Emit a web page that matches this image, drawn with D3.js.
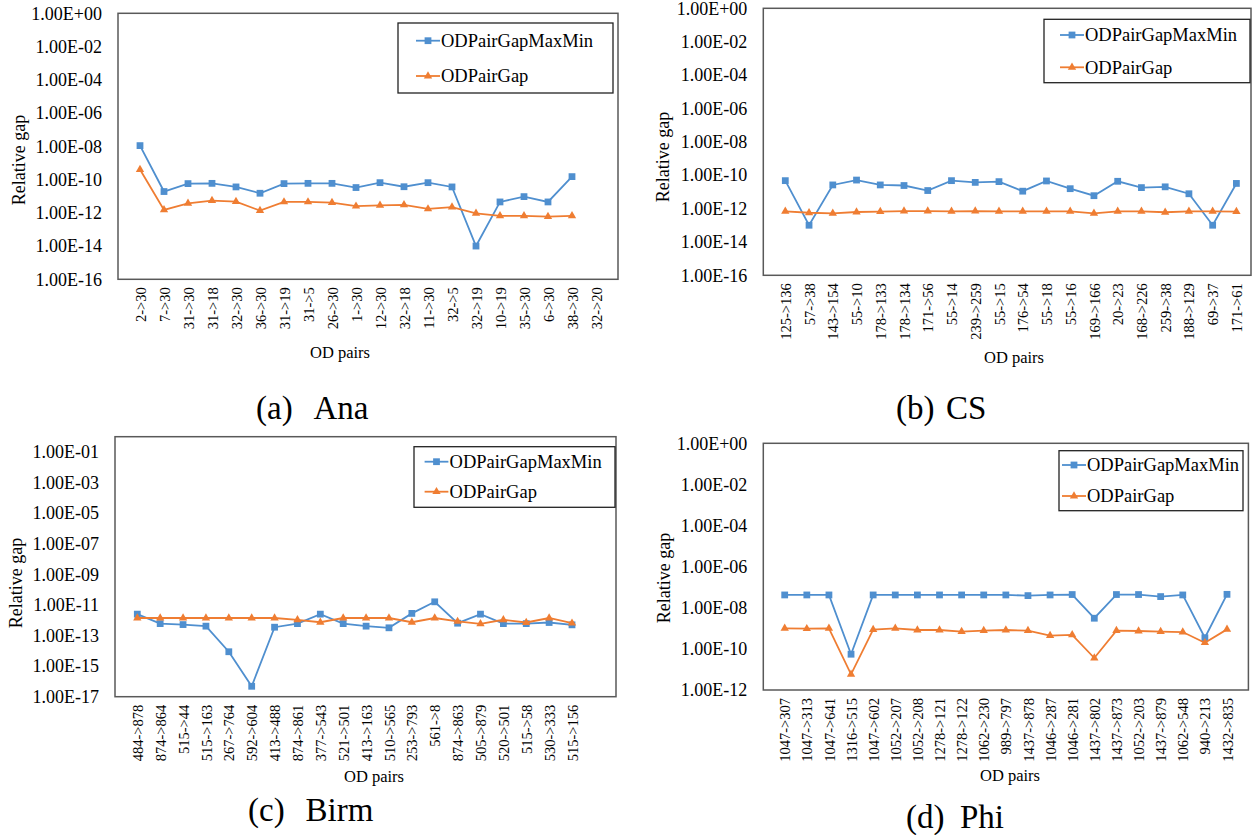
<!DOCTYPE html>
<html>
<head>
<meta charset="utf-8">
<script src="https://cdnjs.cloudflare.com/ajax/libs/d3/7.8.5/d3.min.js"></script>
<style>
  html, body { margin: 0; padding: 0; background: #fff; }
  svg { display: block; }
  svg text { font-family: "Liberation Serif", "Times New Roman", serif; }
</style>
</head>
<body>
<svg id="chart" width="1253" height="835"></svg>
<script>
// ---- Series names ----
const seriesNames = ["ODPairGapMaxMin", "ODPairGap"];

// ---- (a) Ana ----
const anaPairs = ["2->30","7->30","31->30","31->18","32->30","36->30","31->19","31->5","26->30","1->30",
                  "12->30","32->18","11->30","32->5","32->19","10->19","35->30","6->30","38->30","32->20"];
const anaMaxMin = [1.1e-8, 1.9e-11, 5.7e-11, 5.9e-11, 3.6e-11, 1.5e-11, 5.7e-11, 5.9e-11, 5.9e-11, 3.3e-11,
                   6.5e-11, 3.7e-11, 6.5e-11, 3.6e-11, 1.0e-14, 4.5e-12, 9.4e-12, 4.5e-12, 1.5e-10, null];
const anaGap = [4.0e-10, 1.5e-12, 3.7e-12, 5.4e-12, 4.7e-12, 1.35e-12, 4.5e-12, 4.5e-12, 4.1e-12, 2.5e-12,
                2.8e-12, 3.0e-12, 1.7e-12, 2.2e-12, 9.3e-13, 6.5e-13, 6.5e-13, 5.9e-13, 6.5e-13, null];
const anaTickExps = [0, -2, -4, -6, -8, -10, -12, -14, -16];

// ---- (b) CS ----
const csPairs = ["125->136","57->38","143->154","55->10","178->133","178->134","171->56","55->14","239->259","55->15",
                 "176->54","55->18","55->16","169->166","20->23","168->226","259->38","188->129","69->37","171->61"];
const csMaxMin = [4.7e-11, 1.0e-13, 2.6e-11, 5.1e-11, 2.6e-11, 2.4e-11, 1.2e-11, 4.7e-11, 3.7e-11, 4.1e-11,
                  1.1e-11, 4.5e-11, 1.55e-11, 5.9e-12, 4.3e-11, 1.8e-11, 2.0e-11, 7.7e-12, 1.0e-13, 3.2e-11];
const csGap = [6.8e-13, 5.6e-13, 5.1e-13, 6.2e-13, 6.5e-13, 7.1e-13, 7.1e-13, 6.8e-13, 7.1e-13, 6.8e-13,
               6.8e-13, 6.8e-13, 6.8e-13, 5.2e-13, 6.8e-13, 6.8e-13, 6.0e-13, 6.8e-13, 6.8e-13, 6.5e-13];
const csTickExps = [0, -2, -4, -6, -8, -10, -12, -14, -16];

// ---- (c) Birm ----
const birmPairs = ["484->878","874->864","515->44","515->163","267->764","592->604","413->488","874->861","377->543","521->501",
                   "413->163","510->565","253->793","561->8","874->863","505->879","520->501","515->58","530->333","515->156"];
const birmMaxMin = [2.5e-12, 6.0e-13, 5.2e-13, 4.1e-13, 8.7e-15, 4.8e-17, 3.5e-13, 6.0e-13, 2.5e-12, 6.0e-13,
                    4.1e-13, 3.2e-13, 2.8e-12, 1.6e-11, 6.4e-13, 2.5e-12, 6.0e-13, 6.0e-13, 7.1e-13, 5.0e-13];
const birmGap = [1.4e-12, 1.4e-12, 1.4e-12, 1.4e-12, 1.4e-12, 1.4e-12, 1.4e-12, 1.07e-12, 7.4e-13, 1.4e-12,
                 1.4e-12, 1.4e-12, 7.4e-13, 1.4e-12, 8.3e-13, 5.8e-13, 1.07e-12, 7.1e-13, 1.4e-12, 6.4e-13];
const birmTickExps = [-1, -3, -5, -7, -9, -11, -13, -15, -17];

// ---- (d) Phi ----
const phiPairs = ["1047->307","1047->313","1047->641","1316->515","1047->602","1052->207","1052->208","1278->121","1278->122","1062->230",
                  "989->797","1437->878","1046->287","1046->281","1437->802","1437->873","1052->203","1437->879","1062->548","940->213","1432->835"];
const phiMaxMin = [4.2e-8, 4.2e-8, 4.2e-8, 5.5e-11, 4.2e-8, 4.2e-8, 4.2e-8, 4.2e-8, 4.2e-8, 4.2e-8,
                   4.2e-8, 3.9e-8, 4.2e-8, 4.4e-8, 3.1e-9, 4.4e-8, 4.4e-8, 3.5e-8, 4.2e-8, 3.5e-10, 4.5e-8];
const phiGap = [1.0e-9, 9.6e-10, 1.0e-9, 5.8e-12, 8.7e-10, 1.0e-9, 8.3e-10, 8.3e-10, 6.9e-10, 7.7e-10,
                8.3e-10, 7.7e-10, 4.4e-10, 4.8e-10, 3.6e-11, 7.7e-10, 7.4e-10, 6.9e-10, 6.6e-10, 2.0e-10, 8.9e-10];
const phiTickExps = [0, -2, -4, -6, -8, -10, -12];

// ---- Styling ----
const BLUE = "#4F8FCF";
const ORANGE = "#EF7D32";
const SERIF = "Liberation Serif, Times New Roman, serif";
const svg = d3.select("#chart");

function expLabel(e) {
  const a = Math.abs(e);
  return "1.00E" + (e >= 0 ? "+" : "-") + (a < 10 ? "0" + a : "" + a);
}

function addText(g, size) {
  return g.append("text").attr("font-family", SERIF).attr("font-size", size).attr("fill", "#000");
}

function drawPanel(p) {
  const g = svg.append("g").attr("font-family", SERIF);
  const x = d3.scalePoint().domain(p.pairs).range(p.xRange);
  const y = d3.scaleLog().domain(p.yDomain).range([p.box.y1, p.box.y0]);

  // plot frame
  g.append("rect")
    .attr("x", p.box.x0).attr("y", p.box.y0)
    .attr("width", p.box.x1 - p.box.x0).attr("height", p.box.y1 - p.box.y0)
    .attr("fill", "none").attr("stroke", "#595959").attr("stroke-width", 1.5);

  // y axis (labels only, the frame is the axis line)
  const yAxis = d3.axisLeft(y)
    .tickValues(p.tickExps.map(e => Math.pow(10, e)))
    .tickFormat((d, i) => expLabel(p.tickExps[i]))
    .tickSize(0).tickPadding(16);
  const ya = g.append("g").attr("transform", `translate(${p.box.x0},0)`).call(yAxis);
  ya.attr("font-family", SERIF);
  ya.select(".domain").remove();
  ya.selectAll("text").attr("font-family", SERIF).attr("font-size", 18).attr("fill", "#000");

  // x axis with rotated category labels
  const xAxis = d3.axisBottom(x).tickSize(0).tickPadding(0);
  const xa = g.append("g").attr("transform", `translate(0,${p.box.y1})`).call(xAxis);
  xa.attr("font-family", SERIF);
  xa.select(".domain").remove();
  xa.selectAll("text")
    .attr("font-family", SERIF).attr("font-size", 14.5).attr("fill", "#000")
    .attr("text-anchor", "end")
    .attr("transform", "translate(0,8) rotate(-90)")
    .attr("x", 0).attr("y", 0).attr("dy", "0.35em");

  // axis titles
  addText(g, 18)
    .attr("transform", `translate(${p.yTitle[0]},${p.yTitle[1]}) rotate(-90)`)
    .attr("text-anchor", "middle").attr("dy", "0.35em")
    .text("Relative gap");
  addText(g, 16.5)
    .attr("x", p.xTitle[0]).attr("y", p.xTitle[1])
    .attr("text-anchor", "middle").attr("dy", "0.35em")
    .text("OD pairs");

  // series
  const series = [
    { name: seriesNames[0], values: p.maxMin, color: BLUE, symbol: d3.symbolSquare, size: 46 },
    { name: seriesNames[1], values: p.gap, color: ORANGE, symbol: d3.symbolTriangle, size: 30 }
  ];
  const line = d3.line()
    .defined(d => d.v != null)
    .x(d => x(d.k)).y(d => y(d.v));

  series.forEach(s => {
    const pts = p.pairs.map((k, i) => ({ k, v: s.values[i] }));
    g.append("path").datum(pts)
      .attr("d", line).attr("fill", "none")
      .attr("stroke", s.color).attr("stroke-width", 1.8);
    g.selectAll(null).data(pts.filter(d => d.v != null)).enter()
      .append("path")
      .attr("d", d3.symbol().type(s.symbol).size(s.size))
      .attr("transform", d => `translate(${x(d.k)},${y(d.v)})`)
      .attr("fill", s.color);
  });

  // legend
  const L = p.legend;
  g.append("rect").attr("x", L.x).attr("y", L.y).attr("width", L.w).attr("height", L.h)
    .attr("fill", "#fff").attr("stroke", "#222").attr("stroke-width", 1.3);
  series.forEach((s, i) => {
    const cy = L.rows[i];
    g.append("line").attr("x1", L.line[0]).attr("x2", L.line[1]).attr("y1", cy).attr("y2", cy)
      .attr("stroke", s.color).attr("stroke-width", 1.8);
    g.append("path").attr("d", d3.symbol().type(s.symbol).size(s.size))
      .attr("transform", `translate(${(L.line[0] + L.line[1]) / 2},${cy})`).attr("fill", s.color);
    addText(g, 18.5).attr("x", L.text).attr("y", cy).attr("dy", "0.35em").text(s.name);
  });

  // caption
  addText(g, 33).attr("x", p.caption.x1).attr("y", p.caption.y).text(p.caption.tag);
  addText(g, 33).attr("x", p.caption.x2).attr("y", p.caption.y).text(p.caption.name);
}

drawPanel({
  pairs: anaPairs, maxMin: anaMaxMin, gap: anaGap, tickExps: anaTickExps,
  yDomain: [1e-16, 1], box: { x0: 118, x1: 618, y0: 13.3, y1: 279.3 }, xRange: [140, 596],
  yTitle: [18.5, 160], xTitle: [340, 352],
  legend: { x: 398, y: 23, w: 215, h: 70, rows: [40.7, 76], line: [416, 440], text: 441 },
  caption: { tag: "(a)", name: "Ana", x1: 256, x2: 313.5, y: 419 }
});
drawPanel({
  pairs: csPairs, maxMin: csMaxMin, gap: csGap, tickExps: csTickExps,
  yDomain: [1e-16, 1], box: { x0: 763.3, x1: 1251, y0: 8.3, y1: 275.3 }, xRange: [785.3, 1236.4],
  yTitle: [663, 157], xTitle: [1014, 357],
  legend: { x: 1044, y: 19.3, w: 206, h: 63.4, rows: [35, 67.3], line: [1060, 1084], text: 1085 },
  caption: { tag: "(b)", name: "CS", x1: 896, x2: 946, y: 419 }
});
drawPanel({
  pairs: birmPairs, maxMin: birmMaxMin, gap: birmGap, tickExps: birmTickExps,
  yDomain: [1e-17, 1], box: { x0: 115, x1: 616, y0: 436.7, y1: 696.7 }, xRange: [137.3, 572],
  yTitle: [16, 583], xTitle: [374, 776],
  legend: { x: 414, y: 446.7, w: 201, h: 60.6, rows: [461.7, 491.7], line: [424.6, 448.4], text: 449.6 },
  caption: { tag: "(c)", name: "Birm", x1: 248, x2: 305.5, y: 821 }
});
drawPanel({
  pairs: phiPairs, maxMin: phiMaxMin, gap: phiGap, tickExps: phiTickExps,
  yDomain: [1e-12, 1], box: { x0: 763.3, x1: 1248.4, y0: 443.3, y1: 690 }, xRange: [784.7, 1227],
  yTitle: [664, 578], xTitle: [1010, 775],
  legend: { x: 1059, y: 450.7, w: 184, h: 60, rows: [465, 496], line: [1062, 1086], text: 1087 },
  caption: { tag: "(d)", name: "Phi", x1: 906, x2: 960, y: 828 }
});
</script>
</body>
</html>
